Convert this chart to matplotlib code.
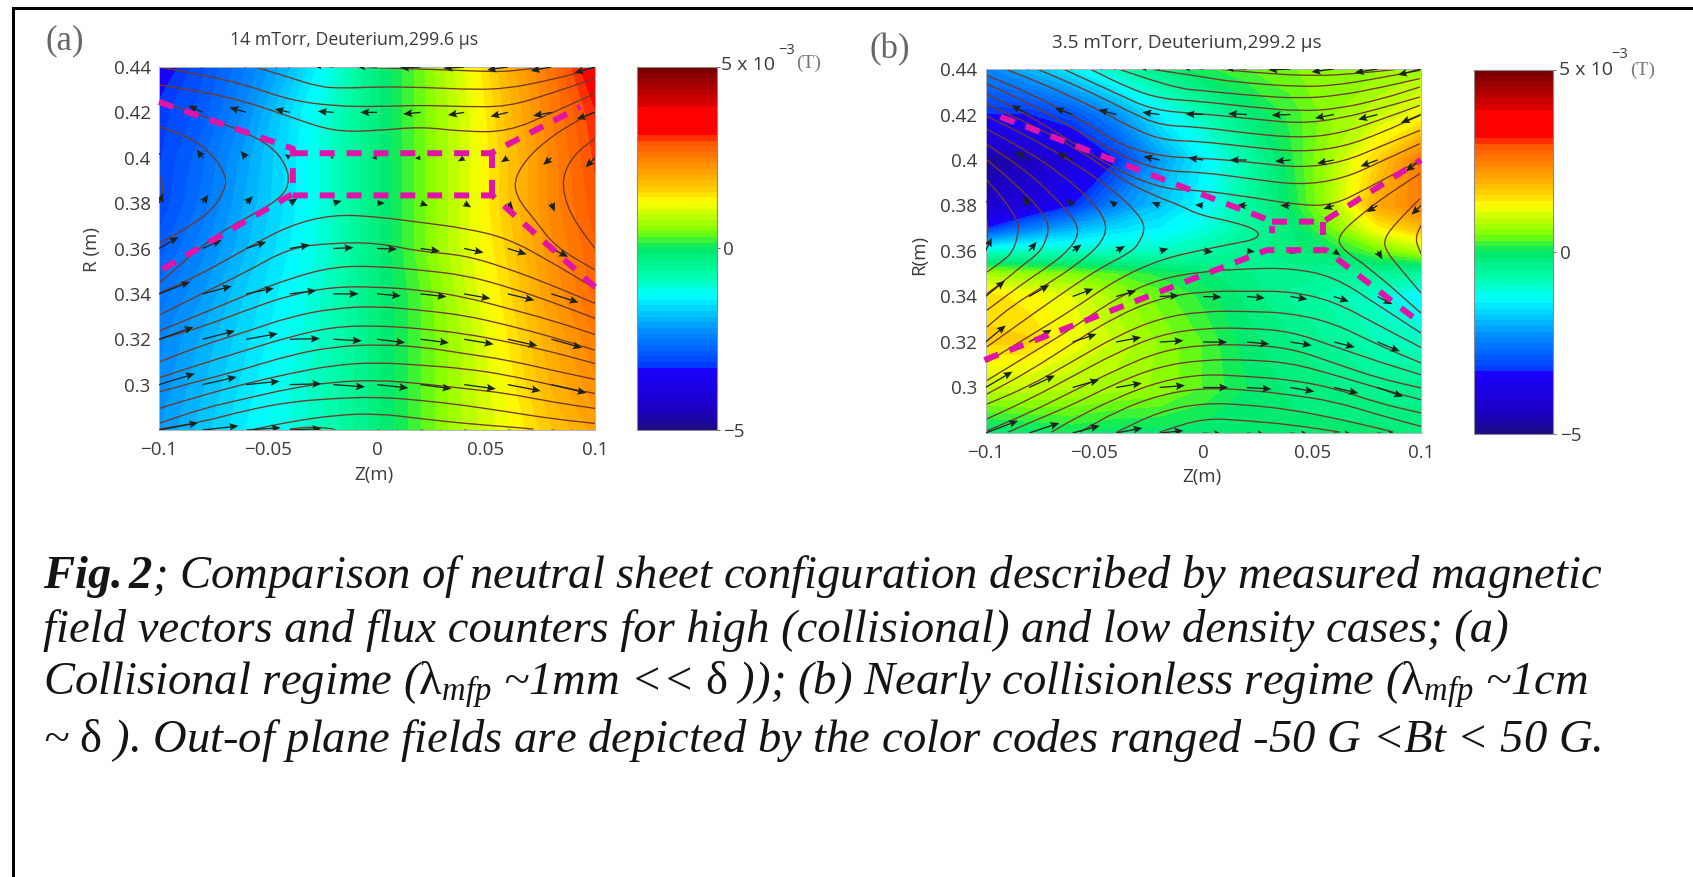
import numpy as np
import matplotlib
matplotlib.use("Agg")
import matplotlib.pyplot as plt
from matplotlib.colors import LinearSegmentedColormap
from matplotlib.patches import PathPatch, Rectangle
from matplotlib.path import Path

W, H = 1693, 877

# grid of the field and arrows (z in m, R in m)
z_grid = [-0.1, -0.08, -0.06, -0.04, -0.02, 0.0, 0.02, 0.04, 0.06, 0.08, 0.1]
r_rows = [0.44, 0.42, 0.40, 0.38, 0.36, 0.34, 0.32, 0.30, 0.28]
r_rows_b = [0.44, 0.42, 0.40, 0.38, 0.37, 0.36, 0.35, 0.34, 0.32, 0.30, 0.28]

# out of plane field, 1e-3 T
bt_a = [
    [-3.5, -3.0, -2.5, -1.9, -1.1, -0.2, 0.4, 1.1, 1.9, 2.6, 3.4],
    [-3.2, -2.9, -2.3, -1.6, -0.9, -0.2, 0.4, 1.0, 1.8, 2.5, 3.1],
    [-3.15, -2.7, -2.1, -1.5, -0.9, -0.2, 0.4, 1.0, 1.7, 2.4, 3.0],
    [-3.1, -2.6, -2.0, -1.5, -0.9, -0.2, 0.4, 1.0, 1.7, 2.4, 2.9],
    [-2.9, -2.4, -1.9, -1.4, -0.9, -0.2, 0.4, 1.0, 1.6, 2.3, 2.8],
    [-2.6, -2.2, -1.7, -1.3, -0.8, -0.2, 0.3, 0.9, 1.5, 2.2, 2.7],
    [-2.4, -2.0, -1.6, -1.2, -0.8, -0.2, 0.3, 0.8, 1.4, 2.0, 2.5],
    [-2.3, -1.9, -1.5, -1.1, -0.7, -0.2, 0.3, 0.8, 1.3, 1.9, 2.3],
    [-2.2, -1.8, -1.4, -1.1, -0.7, -0.2, 0.3, 0.8, 1.2, 1.7, 2.1],
]
bt_b = [
    [-2.4, -1.9, -1.4, -0.8, -0.3, 0.1, 0.3, 0.45, 0.55, 0.6, 0.7],
    [-3.3, -3.3, -3.0, -2.3, -1.4, -0.8, -0.2, 0.2, 0.6, 0.9, 1.2],
    [-4.8, -4.5, -4.0, -3.3, -2.2, -1.4, -0.7, 0.1, 0.8, 1.6, 2.6],
    [-4.3, -4.0, -3.3, -2.4, -1.8, -1.3, -0.6, 0.0, 0.8, 2.0, 2.5],
    [-3.3, -2.5, -2.0, -1.6, -1.4, -1.1, -0.6, -0.2, 0.5, 1.3, 1.8],
    [-1.0, -0.9, -0.9, -0.9, -0.9, -0.7, -0.4, -0.2, 0.0, 0.4, 0.8],
    [0.7, 0.6, 0.5, 0.3, 0.1, -0.1, -0.3, -0.4, -0.5, -0.5, -0.6],
    [1.5, 1.3, 1.1, 0.7, 0.4, 0.1, -0.2, -0.5, -0.7, -1.0, -1.4],
    [1.6, 1.6, 1.2, 0.9, 0.6, 0.3, -0.1, -0.3, -0.5, -0.8, -0.9],
    [0.9, 0.9, 0.8, 0.7, 0.6, 0.3, 0.0, -0.2, -0.3, -0.4, -0.4],
    [-0.2, -0.1, 0.0, -0.1, -0.1, -0.1, -0.1, -0.1, -0.1, -0.1, -0.2],
]

# in-plane field arrows, drawn as dz, dR from the grid nodes
u_a = [
    [-0.0095, -0.0095, -0.0095, -0.0095, -0.0095, -0.0095, -0.0095, -0.0095, -0.0095, -0.0095, -0.0095],
    [-0.0066, -0.0066, -0.0077, -0.0069, -0.0072, -0.0077, -0.0080, -0.0075, -0.0080, -0.0084, -0.0084],
    [-0.0028, -0.0028, -0.0026, -0.0023, -0.0015, -0.0024, -0.0026, -0.0029, -0.0031, -0.0038, -0.0043],
    [0.0020, 0.0026, 0.0031, 0.0035, 0.0038, 0.0036, 0.0035, 0.0032, 0.0026, 0.0015, 0.0],
    [0.0089, 0.0087, 0.0092, 0.0092, 0.0092, 0.0092, 0.0089, 0.0089, 0.0087, 0.0077, 0.0],
    [0.0142, 0.0133, 0.0127, 0.0122, 0.0115, 0.0110, 0.0119, 0.0120, 0.0122, 0.0125, 0.0],
    [0.0158, 0.0148, 0.0145, 0.0138, 0.0130, 0.0129, 0.0130, 0.0135, 0.0136, 0.0141, 0.0],
    [0.0165, 0.0156, 0.0153, 0.0145, 0.0145, 0.0144, 0.0142, 0.0145, 0.0151, 0.0161, 0.0],
    [0.0180, 0.0164, 0.0158, 0.0145, 0.0140, 0.0130, 0.0130, 0.0130, 0.0130, 0.0130, 0.0],
]
v_a = [
    [0.003, 0.003, 0.003, 0.002, 0.001, 0.0005, -0.0004, -0.0006, -0.0013, -0.0017, -0.0026],
    [0.0030, 0.0030, 0.0022, 0.0015, 0.0005, 0.0, -0.0007, -0.0012, -0.0018, -0.0015, -0.0030],
    [0.0037, 0.0037, 0.0031, 0.0016, 0.0004, 0.0, -0.0003, -0.0016, -0.0020, -0.0032, -0.0043],
    [0.0043, 0.0038, 0.0031, 0.0021, 0.0010, 0.0, -0.0012, -0.0019, -0.0031, -0.0038, 0.0],
    [0.0051, 0.0037, 0.0029, 0.0016, 0.0004, -0.0003, -0.0012, -0.0018, -0.0026, -0.0037, 0.0],
    [0.0053, 0.0034, 0.0025, 0.0015, 0.0, -0.0009, -0.0013, -0.0021, -0.0028, -0.0038, 0.0],
    [0.0054, 0.0037, 0.0025, 0.0003, -0.0007, -0.0015, -0.0016, -0.0022, -0.0029, -0.0038, 0.0],
    [0.0049, 0.0034, 0.0015, 0.0004, -0.0010, -0.0015, -0.0018, -0.0019, -0.0028, -0.0037, 0.0],
    [0.0032, 0.0018, 0.0010, 0.0006, -0.0020, -0.0020, -0.0020, -0.0020, -0.0020, -0.0020, 0.0],
]
u_b = [
    [-0.010, -0.010, -0.010, -0.010, -0.010, -0.010, -0.010, -0.0101, -0.0103, -0.0104, -0.0106],
    [-0.0080, -0.0080, -0.0081, -0.0081, -0.0080, -0.0081, -0.0086, -0.0086, -0.0087, -0.0089, -0.0093],
    [-0.0064, -0.0064, -0.0070, -0.0073, -0.0075, -0.0069, -0.0078, -0.0070, -0.0077, -0.0078, -0.0070],
    [-0.0026, -0.0026, -0.0024, -0.0031, -0.0037, -0.0038, -0.0047, -0.0047, -0.0049, -0.0050, -0.0044],
    [0.0029, 0.0035, 0.0041, 0.0041, 0.0040, 0.0046, 0.0037, 0.0030, 0.0030, 0.0023, 0.0],
    [0.0089, 0.0093, 0.0095, 0.0092, 0.0089, 0.0084, 0.0083, 0.0078, 0.0069, 0.0069, 0.0],
    [0.0093, 0.0104, 0.0110, 0.0115, 0.0109, 0.0110, 0.0103, 0.0098, 0.0096, 0.0103, 0.0],
    [0.0124, 0.0119, 0.0122, 0.0118, 0.0116, 0.0115, 0.0113, 0.0110, 0.0112, 0.0118, 0.0],
    [0.0150, 0.0139, 0.0125, 0.0121, 0.0109, 0.0090, 0.0090, 0.0090, 0.0090, 0.0090, 0.0],
]
v_b = [
    [0.004, 0.004, 0.003, 0.002, 0.001, 0.001, 0.0005, -0.0004, -0.0013, -0.0016, -0.0026],
    [0.0040, 0.0040, 0.0028, 0.0021, 0.0010, 0.0002, 0.0004, -0.0003, -0.0016, -0.0022, -0.0037],
    [0.0038, 0.0038, 0.0032, 0.0020, 0.0016, 0.0010, 0.0, -0.0006, -0.0015, -0.0028, -0.0050],
    [0.0040, 0.0040, 0.0032, 0.0022, 0.0015, 0.0003, 0.0, 0.0, -0.0015, -0.0029, -0.0041],
    [0.0059, 0.0041, 0.0029, 0.0022, 0.0010, -0.0004, -0.0003, -0.0010, -0.0020, -0.0037, 0.0],
    [0.0069, 0.0051, 0.0034, 0.0025, 0.0004, -0.0003, -0.0007, -0.0012, -0.0022, -0.0034, 0.0],
    [0.0073, 0.0054, 0.0035, 0.0021, 0.0006, -0.0001, -0.0009, -0.0015, -0.0023, -0.0041, 0.0],
    [0.0070, 0.0053, 0.0034, 0.0019, 0.0009, 0.0, -0.0007, -0.0018, -0.0025, -0.0040, 0.0],
    [0.0054, 0.0044, 0.0032, 0.0022, 0.0010, -0.0008, -0.0010, -0.0010, -0.0010, -0.0010, 0.0],
]

# flux contours of (a) that cross the whole box, R at z_grid
a_m1 = [0.3402, 0.349, 0.360, 0.3703, 0.375, 0.374, 0.3715, 0.369, 0.3645, 0.354, 0.3424]
a_c = [0.3306, 0.3402, 0.3497, 0.3603, 0.3625, 0.3625, 0.3586, 0.3571, 0.3512, 0.3439, 0.3358]
a_d = [0.3236, 0.3314, 0.3395, 0.3468, 0.352, 0.3522, 0.3505, 0.3483, 0.3431, 0.3365, 0.3292]
a_e = [0.3199, 0.3255, 0.3328, 0.3395, 0.3431, 0.3431, 0.3417, 0.3387, 0.3336, 0.3284, 0.3221]
a_f = [0.31, 0.3174, 0.3233, 0.3299, 0.3336, 0.3346, 0.3328, 0.3306, 0.3262, 0.3211, 0.3152]
a_g = [0.303, 0.3093, 0.3152, 0.3211, 0.3255, 0.326, 0.3247, 0.3225, 0.3189, 0.3145, 0.3093]
a_h = [0.2968, 0.302, 0.3071, 0.313, 0.3167, 0.3177, 0.3167, 0.3137, 0.3108, 0.3064, 0.3023]
a_i = [0.2895, 0.2953, 0.3005, 0.3049, 0.3086, 0.3098, 0.3086, 0.3071, 0.3042, 0.2998, 0.2961]
a_j = [0.2829, 0.2895, 0.2939, 0.2983, 0.3012, 0.302, 0.3005, 0.2983, 0.2961, 0.2924, 0.2895]
a_k = [0.2804, 0.2836, 0.2887, 0.2924, 0.2939, 0.2946, 0.2931, 0.2909, 0.288, 0.285, 0.2829]
a_l2 = [0.44, 0.4365, 0.4321, 0.4254, 0.4228, 0.4225, 0.4232, 0.4225, 0.4225, 0.4284, 0.435]
a_l3 = [0.4321, 0.4291, 0.4247, 0.4181, 0.4115, 0.4119, 0.4137, 0.4115, 0.4115, 0.4196, 0.4284]
a_full = [a_m1, a_c, a_d, a_e, a_f, a_g, a_h, a_i, a_j, a_k, a_l2, a_l3]

# the other contours of (a), each as z then R
a_l0_z = [-0.024, 0.0, 0.03, 0.045, 0.058, 0.068, 0.079]
a_l0_r = [0.44, 0.4397, 0.4388, 0.4382, 0.4379, 0.439, 0.44]
a_l1_z = [-0.056, -0.041, -0.027, -0.016, 0.0014, 0.022, 0.045, 0.06, 0.0756, 0.091, 0.1]
a_l1_r = [0.44, 0.4357, 0.4313, 0.4306, 0.4313, 0.431, 0.43, 0.4306, 0.4335, 0.437, 0.44]
a_l4_z = [-0.1, -0.0865, -0.0712, -0.0559, -0.0468, -0.0414, -0.0403, -0.0429, -0.0529, -0.0666, -0.0819, -0.1]
a_l4_r = [0.424, 0.421, 0.4152, 0.4093, 0.4034, 0.396, 0.3894, 0.3835, 0.3769, 0.3703, 0.36, 0.3446]
a_l5_z = [-0.1, -0.0865, -0.0758, -0.0697, -0.0692, -0.0743, -0.0835, -0.1]
a_l5_r = [0.4137, 0.4093, 0.4019, 0.3931, 0.3872, 0.3784, 0.371, 0.3622]
a_l6_z = [-0.1, -0.0985, -0.098, -0.1]
a_l6_r = [0.3924, 0.3887, 0.3843, 0.3799]
a_r1_z = [0.1, 0.0909, 0.0787, 0.068, 0.0626, 0.0649, 0.0725, 0.0817, 0.1]
a_r1_r = [0.4203, 0.4159, 0.4085, 0.399, 0.3894, 0.3813, 0.3725, 0.3608, 0.3505]
a_r2_z = [0.1, 0.0909, 0.0855, 0.0855, 0.0894, 0.097, 0.1]
a_r2_r = [0.4085, 0.4019, 0.3931, 0.3843, 0.374, 0.3637, 0.36]
a_b1_z = [-0.056, -0.04, -0.02, 0.0, 0.02, 0.04, 0.06, 0.0718]
a_b1_r = [0.2804, 0.2836, 0.2865, 0.2873, 0.285, 0.2829, 0.2814, 0.2804]
a_b2_z = [-0.04, -0.03, -0.02]
a_b2_r = [0.2804, 0.2815, 0.2805]
a_parts = [(a_l0_z, a_l0_r), (a_l1_z, a_l1_r), (a_l4_z, a_l4_r), (a_l5_z, a_l5_r), (a_l6_z, a_l6_r),
           (a_r1_z, a_r1_r), (a_r2_z, a_r2_r), (a_b1_z, a_b1_r), (a_b2_z, a_b2_r)]

# flux contours of (b)
b_a = [0.3027, 0.3144, 0.3261, 0.3393, 0.3478, 0.351, 0.3522, 0.3525, 0.3488, 0.3364, 0.3239]
b_b = [0.2968, 0.3071, 0.3195, 0.3313, 0.3393, 0.3423, 0.3423, 0.3423, 0.3379, 0.3276, 0.3176]
b_c = [0.2924, 0.3005, 0.3115, 0.3225, 0.3305, 0.3335, 0.3335, 0.3327, 0.3283, 0.3188, 0.3108]
b_d = [0.2859, 0.2947, 0.3049, 0.3152, 0.3232, 0.3261, 0.3261, 0.3247, 0.3181, 0.3115, 0.3056]
b_e = [0.2807, 0.2888, 0.2983, 0.3078, 0.3159, 0.3188, 0.3188, 0.3173, 0.3108, 0.3042, 0.2998]
b_full = [b_a, b_b, b_c, b_d, b_e]

b_t1_z = [0.0062, 0.0291, 0.052, 0.0704, 0.0903]
b_t1_r = [0.44, 0.438, 0.4369, 0.438, 0.44]
b_t2_z = [-0.0245, -0.0107, 0.0, 0.0138, 0.0444, 0.0597, 0.075, 0.0995]
b_t2_r = [0.44, 0.438, 0.4365, 0.4343, 0.4321, 0.4328, 0.435, 0.4394]
b_t3_z = [-0.039, -0.026, -0.0107, -0.0015, 0.0215, 0.0444, 0.0628, 0.0827, 0.0995]
b_t3_r = [0.44, 0.4358, 0.4314, 0.4306, 0.4284, 0.427, 0.4284, 0.4321, 0.4358]
b_t4_z = [-0.052, -0.0337, -0.0199, -0.0015, 0.0215, 0.0444, 0.0628, 0.0827, 0.0995]
b_t4_r = [0.44, 0.4314, 0.427, 0.4258, 0.4233, 0.4214, 0.4226, 0.427, 0.4321]
b_t5_z = [-0.0643, -0.0413, -0.023, -0.0015, 0.0215, 0.0444, 0.0628, 0.0811, 0.0995]
b_t5_r = [0.44, 0.4299, 0.4218, 0.4204, 0.4182, 0.416, 0.4182, 0.4226, 0.4277]
b_t6_z = [-0.0765, -0.0566, -0.0337, -0.0199, -0.0015, 0.0215, 0.0444, 0.0628, 0.0827, 0.0995]
b_t6_r = [0.44, 0.4321, 0.4211, 0.4152, 0.4145, 0.4116, 0.4097, 0.4116, 0.4182, 0.424]
b_t7_z = [-0.091, -0.0719, -0.049, -0.0291, -0.017, -0.0015, 0.0215, 0.0444, 0.0643, 0.0827, 0.0995]
b_t7_r = [0.44, 0.4328, 0.4226, 0.4123, 0.4086, 0.4082, 0.4057, 0.4035, 0.4057, 0.4123, 0.4196]
b_t8_z = [-0.1, -0.0796, -0.0566, -0.0367, -0.017, -0.0015, 0.0215, 0.0444, 0.0643, 0.0827, 0.0995]
b_t8_r = [0.4375, 0.4292, 0.4182, 0.4057, 0.4013, 0.4009, 0.3991, 0.3965, 0.3991, 0.4065, 0.413]
b_t9_z = [-0.1, -0.0796, -0.0566, -0.0352, -0.017, -0.0015, 0.0215, 0.0444, 0.0643, 0.0811, 0.0995]
b_t9_r = [0.4336, 0.4248, 0.4123, 0.4006, 0.395, 0.3947, 0.3918, 0.3889, 0.3918, 0.3991, 0.4072]
b_t10_z = [-0.1, -0.08, -0.0566, -0.0383, -0.017, -0.0015, 0.0215, 0.0444, 0.0597, 0.075, 0.0995]
b_t10_r = [0.4292, 0.4196, 0.4057, 0.3947, 0.387, 0.3867, 0.3837, 0.3801, 0.3801, 0.3874, 0.3999]
b_cusp_z = [-0.1, -0.08, -0.0566, -0.0383, -0.023, -0.0107, -0.0015, 0.0138, 0.0253, 0.0253, 0.0138,
            -0.0015, -0.02, -0.04, -0.06, -0.08, -0.1]
b_cusp_r = [0.4248, 0.416, 0.4043, 0.3918, 0.3845, 0.3801, 0.3757, 0.3728, 0.3691, 0.3654, 0.3632,
            0.3603, 0.3562, 0.3474, 0.3342, 0.3225, 0.3108]
b_c1_z = [-0.1, -0.08, -0.0597, -0.0413, -0.0306, -0.0265, -0.0291, -0.0329, -0.0474, -0.0612, -0.0765, -0.1]
b_c1_r = [0.4196, 0.4101, 0.3991, 0.3867, 0.3772, 0.3706, 0.364, 0.3596, 0.3525, 0.3437, 0.3335, 0.3174]
b_c2_z = [-0.1, -0.0826, -0.0643, -0.0505, -0.0436, -0.0474, -0.0582, -0.0719, -0.0872, -0.1]
b_c2_r = [0.4138, 0.405, 0.3933, 0.3815, 0.3713, 0.3625, 0.354, 0.3452, 0.3364, 0.3261]
b_c3_z = [-0.1, -0.0826, -0.0689, -0.0582, -0.0574, -0.0612, -0.0689, -0.0826, -0.1]
b_c3_r = [0.4072, 0.3962, 0.3845, 0.3728, 0.3669, 0.361, 0.3547, 0.3459, 0.3335]
b_c4_z = [-0.1, -0.0872, -0.075, -0.0708, -0.0719, -0.075, -0.0826, -0.0918, -0.1]
b_c4_r = [0.4006, 0.3903, 0.3786, 0.3713, 0.3654, 0.3595, 0.354, 0.3466, 0.3408]
b_c5_z = [-0.1, -0.0918, -0.0857, -0.0845, -0.0872, -0.0934, -0.1]
b_c5_r = [0.3918, 0.383, 0.3742, 0.3698, 0.3596, 0.3547, 0.3503]
b_c6_z = [-0.1, -0.0987, -0.0995]
b_c6_r = [0.375, 0.3713, 0.364]
b_f_z = [-0.0895, -0.08, -0.06, -0.04, -0.02, 0.0, 0.02, 0.04, 0.06, 0.08, 0.1]
b_f_r = [0.2804, 0.2844, 0.2924, 0.302, 0.3093, 0.3122, 0.3122, 0.3108, 0.3056, 0.2998, 0.2946]
b_g_z = [-0.0696, -0.06, -0.04, -0.02, 0.0, 0.02, 0.04, 0.06, 0.08, 0.1]
b_g_r = [0.2804, 0.2859, 0.2954, 0.3027, 0.3059, 0.3049, 0.3034, 0.2998, 0.2932, 0.2888]
b_h_z = [-0.0566, -0.04, -0.02, 0.0, 0.02, 0.04, 0.06, 0.08, 0.1]
b_h_r = [0.2804, 0.2895, 0.2968, 0.2998, 0.299, 0.2968, 0.2939, 0.2881, 0.2829]
b_i_z = [-0.0398, -0.02, 0.0, 0.02, 0.04, 0.06, 0.08, 0.0872]
b_i_r = [0.2804, 0.2895, 0.2932, 0.2924, 0.2903, 0.2866, 0.2822, 0.2804]
b_j_z = [-0.02, 0.0, 0.02, 0.04, 0.0628]
b_j_r = [0.2804, 0.2866, 0.2854, 0.2837, 0.2804]
b_h1_z = [0.0995, 0.0842, 0.072, 0.0612, 0.0643, 0.0765, 0.1]
b_h1_r = [0.394, 0.3845, 0.3757, 0.3662, 0.3603, 0.3525, 0.3327]
b_h2_z = [0.0995, 0.0903, 0.0827, 0.0842, 0.0903, 0.1]
b_h2_r = [0.383, 0.3742, 0.3654, 0.3596, 0.3525, 0.3415]
b_h3_z = [0.1, 0.0972, 0.1]
b_h3_r = [0.3713, 0.3654, 0.3588]
b_parts = [(b_t1_z, b_t1_r), (b_t2_z, b_t2_r), (b_t3_z, b_t3_r), (b_t4_z, b_t4_r), (b_t5_z, b_t5_r),
           (b_t6_z, b_t6_r), (b_t7_z, b_t7_r), (b_t8_z, b_t8_r), (b_t9_z, b_t9_r), (b_t10_z, b_t10_r),
           (b_cusp_z, b_cusp_r), (b_c1_z, b_c1_r), (b_c2_z, b_c2_r), (b_c3_z, b_c3_r), (b_c4_z, b_c4_r),
           (b_c5_z, b_c5_r), (b_c6_z, b_c6_r), (b_f_z, b_f_r), (b_g_z, b_g_r), (b_h_z, b_h_r),
           (b_i_z, b_i_r), (b_j_z, b_j_r), (b_h1_z, b_h1_r), (b_h2_z, b_h2_r), (b_h3_z, b_h3_r)]

# magenta neutral sheet outlines
a_sheet = [
    ([-0.1, -0.0386, -0.0386, -0.1007], [0.4246, 0.404, 0.3841, 0.3496]),
    ([-0.0386, 0.0522, 0.0933], [0.402, 0.402, 0.4224]),
    ([-0.0386, 0.0529, 0.1], [0.3834, 0.3834, 0.343]),
    ([0.0529, 0.0529], [0.402, 0.3834]),
]
b_sheet = [
    ([-0.0931, 0.0279, 0.0316, 0.0316], [0.419, 0.3744, 0.3729, 0.3678]),
    ([0.0316, 0.0551, 0.1], [0.3729, 0.3729, 0.40]),
    ([0.0551, 0.0551], [0.3729, 0.367]),
    ([-0.1005, 0.0292, 0.0563, 0.1], [0.3121, 0.3604, 0.3604, 0.3282]),
]

r_ticks = [0.3, 0.32, 0.34, 0.36, 0.38, 0.4, 0.42, 0.44]
r_labels = ["0.3", "0.32", "0.34", "0.36", "0.38", "0.4", "0.42", "0.44"]
z_ticks = [-0.1, -0.05, 0, 0.05, 0.1]
z_labels = ["\u22120.1", "\u22120.05", "0", "0.05", "0.1"]

caption = [
    r"$\mathbf{Fig{.}2}$; Comparison of neutral sheet configuration described by measured magnetic",
    "field vectors and flux counters for high (collisional) and low density cases; (a)",
    r"Collisional regime ($\mathrm{\lambda}_{mfp}$ ~1mm << $\mathrm{\delta}$ )); (b) Nearly collisionless regime ($\mathrm{\lambda}_{mfp}$ ~1cm",
    r"~ $\mathrm{\delta}$ ). Out-of plane fields are depicted by the color codes ranged -50 G <Bt < 50 G.",
]

# colour bar of the original, a jet with flat blocks at blue and red
stops = [0.0, 0.055, 0.17, 0.175, 0.27, 0.37, 0.42, 0.50, 0.55, 0.63, 0.67, 0.74, 0.808, 0.812, 0.89, 0.90, 0.945, 1.0]
stop_colors = ["#1c0a8a", "#1c00c8", "#1a00ff", "#0040ff", "#0090ff", "#00ffff", "#00ffb4", "#00e868",
               "#80ff00", "#ffff00", "#ffc800", "#ff8a00", "#ff4c00", "#ff0000", "#ff0000", "#e00000",
               "#b00000", "#7a0000"]

plt.rcParams["font.family"] = ["Open Sans", "DejaVu Sans"]
plt.rcParams["mathtext.fontset"] = "custom"
plt.rcParams["mathtext.rm"] = "Liberation Serif"
plt.rcParams["mathtext.it"] = "Liberation Serif:italic"
plt.rcParams["mathtext.bf"] = "Liberation Serif:italic:bold"

cmap = LinearSegmentedColormap.from_list("bt", list(zip(stops, stop_colors)), N=64)
levels = np.linspace(-5, 5, 65)
line_col = "#74382c"
text_col = "#3a3a3a"


def box(x0, y0, x1, y1):
    # pixel box of the reference -> figure axes rect
    return [x0 / W, 1 - y1 / H, (x1 - x0) / W, (y1 - y0) / H]


def put(x, y, s, **kw):
    kw.setdefault("color", text_col)
    return fig.text(x / W, 1 - y / H, s, **kw)


def smooth(ax, z, r):
    pts = np.column_stack([z, r])
    verts = [pts[0], (pts[0] + pts[1]) / 2]
    codes = [Path.MOVETO, Path.LINETO]
    for i in range(1, len(pts) - 1):
        verts += [pts[i], (pts[i] + pts[i + 1]) / 2]
        codes += [Path.CURVE3, Path.CURVE3]
    verts.append(pts[-1])
    codes.append(Path.LINETO)
    ax.add_patch(PathPatch(Path(verts, codes), fc="none", ec=line_col, lw=0.95))


def panel(rect, cbar_rect, rows, bt, u, v, full, parts, sheet):
    ax = fig.add_axes(rect)
    mesh = ax.contourf(z_grid, rows, bt, levels=levels, cmap=cmap, vmin=-5, vmax=5)
    for r in full:
        smooth(ax, z_grid, r)
    for z, r in parts:
        smooth(ax, z, r)
    zz, rr = np.meshgrid(z_grid, r_rows)
    ax.quiver(zz, rr, u, v, angles="xy", scale_units="xy", scale=1, units="dots", width=1.3,
              headwidth=6, headlength=7, headaxislength=6, minlength=0, color="#1d2420", zorder=3)
    for z, r in sheet:
        ax.plot(z, r, color="#e213a8", lw=4.3, dashes=(2.5, 2.0), dash_capstyle="butt",
                clip_on=False, zorder=4)
    ax.set_xlim(-0.1, 0.1)
    ax.set_ylim(0.28, 0.44)
    ax.set_xticks(z_ticks)
    ax.set_xticklabels(z_labels)
    ax.set_yticks(r_ticks)
    ax.set_yticklabels(r_labels)
    ax.tick_params(length=0, labelsize=13.5, labelcolor=text_col)
    ax.tick_params(axis="x", pad=8)
    ax.tick_params(axis="y", pad=6)
    for s in ax.spines.values():
        s.set_color("#b5b5b5")
        s.set_linewidth(0.7)

    cax = fig.add_axes(cbar_rect)
    cb = fig.colorbar(mesh, cax=cax, ticks=[-5, 0, 5])
    cb.ax.set_yticklabels(["\u22125", "0", ""])
    cb.ax.tick_params(length=2, width=0.6, color="#555555", labelsize=13.5, labelcolor=text_col, pad=3)
    cb.outline.set_edgecolor("#8a8a8a")
    cb.outline.set_linewidth(0.8)
    return ax


fig = plt.figure(figsize=(W / 100, H / 100), dpi=100, facecolor="white")

# page frame, top and left only
fig.add_artist(Rectangle((12 / W, 0), 3 / W, 1 - 7 / H, transform=fig.transFigure, fc="black", ec="none"))
fig.add_artist(Rectangle((12 / W, 1 - 10 / H), 1 - 12 / W, 3 / H, transform=fig.transFigure, fc="black", ec="none"))

panel(box(159, 67, 595, 430), box(637, 67, 716.5, 430), r_rows, bt_a, u_a, v_a, a_full, a_parts, a_sheet)
panel(box(985.5, 69, 1421, 433), box(1473.7, 70, 1552.7, 434), r_rows_b, bt_b, u_b, v_b, b_full, b_parts, b_sheet)

# texts around the panels
put(354, 40, "14 mTorr, Deuterium,299.6 \u00b5s", fontsize=12.8, ha="center", va="center")
put(1187, 43, "3.5 mTorr, Deuterium,299.2 \u00b5s", fontsize=13.6, ha="center", va="center")
put(65, 41, "(a)", fontsize=25, family="Liberation Serif", color="#666666", ha="center", va="center")
put(890, 50, "(b)", fontsize=25, family="Liberation Serif", color="#666666", ha="center", va="center")
put(92, 250, "R (m)", fontsize=13.5, rotation=90, ha="center", va="center")
put(919, 255, "R(m)", fontsize=13.5, rotation=90, ha="center", va="center")
put(374, 475, "Z(m)", fontsize=13.5, ha="center", va="center")
put(1202, 477, "Z(m)", fontsize=13.5, ha="center", va="center")

put(721, 65, "5 x 10", fontsize=14, ha="left", va="center")
put(778, 50, "\u22123", fontsize=10.5, ha="left", va="center")
put(796, 63, "(T)", fontsize=14, family="Liberation Serif", color="#777777", ha="left", va="center")
put(1559, 70, "5 x 10", fontsize=14, ha="left", va="center")
put(1611, 55, "\u22123", fontsize=10.5, ha="left", va="center")
put(1630, 70, "(T)", fontsize=14, family="Liberation Serif", color="#777777", ha="left", va="center")

# caption
baselines = [588, 642, 695, 752]
for base, line in zip(baselines, caption):
    put(43, base, line, fontsize=33.6, family="Liberation Serif", style="italic",
        color="#141414", ha="left", va="baseline")

fig.savefig("out.png", dpi=100, facecolor="white")
